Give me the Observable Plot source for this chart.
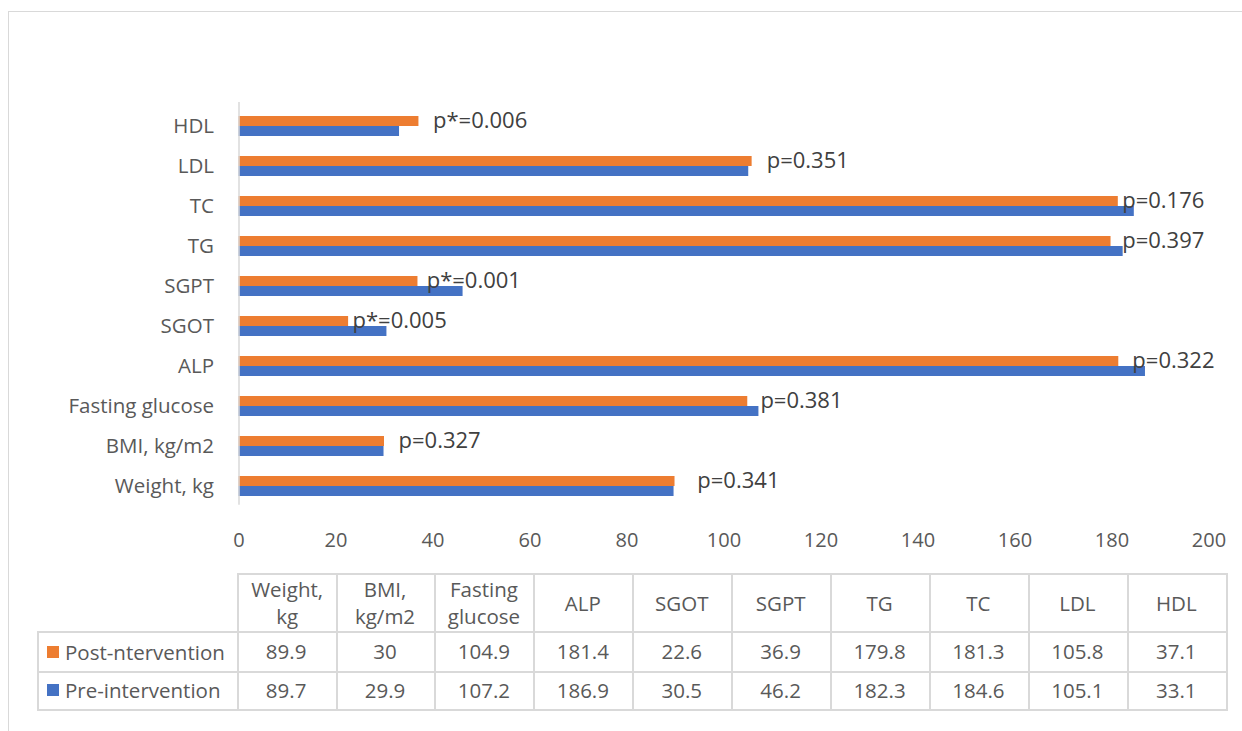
<!DOCTYPE html>
<html>
<head>
<meta charset="utf-8">
<script src="https://cdn.jsdelivr.net/npm/d3@7"></script>
<script src="https://cdn.jsdelivr.net/npm/@observablehq/plot@0.6"></script>
<style>
  body { margin: 0; background: #fff; font-family: "Open Sans", sans-serif; }
  #wrap { position: relative; width: 1242px; height: 731px; overflow: hidden; background: #fff; }
  #frame { position: absolute; left: 8px; top: 11px; width: 1300px; height: 800px;
           border-top: 1.5px solid #d9d9d9; border-left: 1.5px solid #d9d9d9; box-sizing: border-box; }
  #chart { position: absolute; left: 0; top: 0; }
  .cell { position: absolute; box-sizing: border-box; display: flex; align-items: center; justify-content: center;
          text-align: center; color: #595959; font-size: 20.5px; line-height: 27px; border-color: #d9d9d9; border-style: solid; border-width: 0; }
  .key { display: inline-block; width: 12px; height: 12px; margin-right: 6px; }
</style>
</head>
<body>
<div id="wrap">
  <div id="frame"></div>
  <div id="chart"></div>
  <div id="table"></div>
</div>
<script>
// ---- data ----
const categories = ["Weight, kg", "BMI, kg/m2", "Fasting glucose", "ALP", "SGOT", "SGPT", "TG", "TC", "LDL", "HDL"];
const postValues = [89.9, 30, 104.9, 181.4, 22.6, 36.9, 179.8, 181.3, 105.8, 37.1];
const preValues  = [89.7, 29.9, 107.2, 186.9, 30.5, 46.2, 182.3, 184.6, 105.1, 33.1];
const pLabels    = ["p=0.341", "p=0.327", "p=0.381", "p=0.322", "p*=0.005", "p*=0.001", "p=0.397", "p=0.176", "p=0.351", "p*=0.006"];
const pLabelAt   = [94.5, 32.9, 107.5, 184.2, 23.4, 38.7, 182.1, 182.1, 108.8, 40.0];
const xTicks     = [0, 20, 40, 60, 80, 100, 120, 140, 160, 180, 200];
const seriesNames  = ["Post-ntervention", "Pre-intervention"];
const seriesColors = ["#ED7D31", "#4472C4"];

// ---- chart ----
const rows = categories.map((c, i) => ({cat: c, post: postValues[i], pre: preValues[i], label: pLabels[i], at: pLabelAt[i]}));
const W = 1242, H = 560;
function make(inset) {
  return Plot.plot({
    width: W, height: H,
    marginLeft: 238.5, marginRight: 33.5, marginTop: 93, marginBottom: H - 519.7,
    x: {domain: [0, 200], ticks: xTicks, label: null},
    y: {domain: categories.slice().reverse(), padding: 0.5, label: null},
    style: {fontFamily: "Open Sans", fontSize: "19px", color: "#595959", background: "transparent"},
    marks: [
      Plot.barX(rows, {y: "cat", x: "post", fill: seriesColors[0], insetBottom: inset}),
      Plot.barX(rows, {y: "cat", x: "pre", fill: seriesColors[1], insetTop: inset}),
      Plot.ruleX([0], {stroke: "#d9d9d9", strokeWidth: 1.5, insetTop: 9, insetBottom: 15}),
      Plot.axisX({ticks: xTicks, tickSize: 0, tickPadding: 13, fontSize: 20, label: null, fill: "#595959"}),
      Plot.axisY({tickSize: 0, tickPadding: 25, fontSize: 20.5, label: null, fill: "#595959"}),
      Plot.text(rows, {y: "cat", x: "at", text: "label", textAnchor: "start", dy: -6, fontSize: 22, fill: "#404040"})
    ]
  });
}
let chart = make(0);
const bw = chart.scale("y").bandwidth;
chart = make(bw / 2);
document.getElementById("chart").appendChild(chart);

// ---- data table ----
const table = document.getElementById("table");
const tLeft = 37, firstCol = 236.7, colW = 98.9;
const rowTops = [573, 631, 671, 709];
function cell(x, y, w, h, borders, content) {
  const d = document.createElement("div");
  d.className = "cell";
  d.style.left = x + "px"; d.style.top = y + "px";
  d.style.width = w + "px"; d.style.height = h + "px";
  const bwid = "2px";
  if (borders.includes("t")) d.style.borderTopWidth = bwid;
  if (borders.includes("r")) d.style.borderRightWidth = bwid;
  if (borders.includes("b")) d.style.borderBottomWidth = bwid;
  if (borders.includes("l")) d.style.borderLeftWidth = bwid;
  if (typeof content === "string") d.textContent = content; else d.appendChild(content);
  table.appendChild(d);
  return d;
}
categories.forEach((c, i) => {
  const x = firstCol + i * colW;
  const parts = c.split(" ");
  const frag = document.createElement("div");
  if (parts.length > 1) {
    const a = document.createElement("div"); a.textContent = parts[0];
    const b = document.createElement("div"); b.textContent = parts.slice(1).join(" ");
    frag.appendChild(a); frag.appendChild(b);
  } else frag.textContent = c;
  cell(x, rowTops[0], colW + 2, rowTops[1] - rowTops[0] + 2, i === 0 ? "tlrb" : "trb", frag);
  [postValues, preValues].forEach((vals, r) => {
    cell(x, rowTops[r + 1], colW + 2, rowTops[r + 2] - rowTops[r + 1] + 2, "rb", String(vals[i]));
  });
});
seriesNames.forEach((name, r) => {
  const frag = document.createElement("div");
  frag.style.display = "flex"; frag.style.alignItems = "center";
  frag.style.width = "100%"; frag.style.paddingLeft = "8px"; frag.style.boxSizing = "border-box";
  const k = document.createElement("span"); k.className = "key"; k.style.background = seriesColors[r];
  const t = document.createElement("span"); t.textContent = name;
  frag.appendChild(k); frag.appendChild(t);
  cell(tLeft, rowTops[r + 1], firstCol - tLeft + 2, rowTops[r + 2] - rowTops[r + 1] + 2, r === 0 ? "tlrb" : "lrb", frag);
});
</script>
</body>
</html>
